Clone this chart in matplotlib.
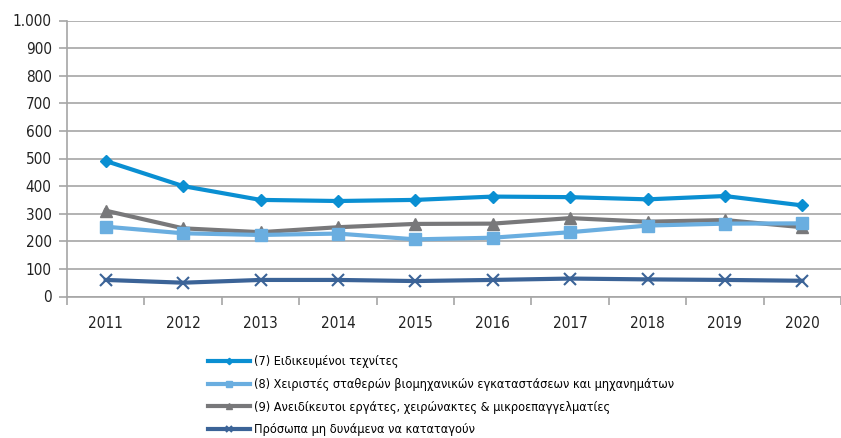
import matplotlib
matplotlib.use("Agg")
import matplotlib.pyplot as plt
from matplotlib.ticker import FixedLocator, FuncFormatter

years = ["2011", "2012", "2013", "2014", "2015", "2016", "2017", "2018", "2019", "2020"]

skilled_trades = [491, 400, 350, 346, 350, 362, 360, 352, 364, 330]
machine_operators = [253, 229, 223, 228, 207, 213, 233, 257, 264, 265]
unskilled_workers = [311, 247, 233, 251, 263, 264, 284, 271, 277, 251]
unclassified = [60, 50, 60, 60, 56, 60, 65, 62, 60, 57]

labels = [
    "(7) Ειδικευμένοι τεχνίτες",
    "(8) Χειριστές σταθερών βιομηχανικών εγκαταστάσεων και μηχανημάτων",
    "(9) Ανειδίκευτοι εργάτες, χειρώνακτες & μικροεπαγγελματίες",
    "Πρόσωπα μη δυνάμενα να καταταγούν",
]

plt.rcParams["font.family"] = ["DejaVu Sans"]
plt.rcParams["font.stretch"] = "condensed"

fig = plt.figure(figsize=(8.41, 4.38), dpi=100)
ax = fig.add_axes([67 / 841, 1 - 296.5 / 438, 1 - 67 / 841, (296.5 - 20.5) / 438])

x = list(range(len(years)))
grid_c = "#a6a6a6"

ax.plot(x, skilled_trades, color="#0a8fd2", lw=3.0, marker="D", ms=6.5, label=labels[0], zorder=5)
ax.plot(x, machine_operators, color="#6aaee0", lw=3.0, marker="s", ms=9, label=labels[1], zorder=4)
ax.plot(x, unskilled_workers, color="#78787a", lw=3.0, marker="^", ms=8, label=labels[2], zorder=3)
ax.plot(x, unclassified, color="#3b6397", lw=3.0, marker="x", ms=9, mew=1.5, label=labels[3], zorder=5)

ax.set_xlim(-0.5, len(years) - 0.5)
ax.set_ylim(0, 1000)
ax.set_yticks(range(0, 1001, 100))
ax.yaxis.set_major_formatter(FuncFormatter(lambda v, p: f"{int(v):,}".replace(",", ".")))
ax.set_xticks(x)
ax.set_xticklabels(years)
ax.xaxis.set_minor_locator(FixedLocator([i - 0.5 for i in range(len(years) + 1)]))
ax.tick_params(axis="x", which="major", length=0, pad=14, labelsize=11, colors="#222222")
ax.tick_params(axis="x", which="minor", length=6, width=1.2, color=grid_c)
ax.tick_params(axis="y", length=6, width=1.2, color=grid_c, pad=5, labelsize=11, labelcolor="#222222")

ax.grid(axis="y", color=grid_c, lw=1.2)
ax.set_axisbelow(True)
for side in ("top", "right"):
    ax.spines[side].set_visible(False)
for side in ("left", "bottom"):
    ax.spines[side].set_color(grid_c)
    ax.spines[side].set_linewidth(1.2)

handles, lbls = ax.get_legend_handles_labels()
leg = fig.legend(
    handles, lbls,
    loc="upper left", bbox_to_anchor=(208 / 841, 1 - 355.5 / 438),
    frameon=False, ncol=1,
    prop={"family": "DejaVu Sans", "stretch": "condensed", "size": 9.1},
    handlelength=3.3, handletextpad=0.3, labelspacing=0.76,
    markerscale=0.5, borderaxespad=0, borderpad=0,
)

fig.savefig("out.png", dpi=100)
